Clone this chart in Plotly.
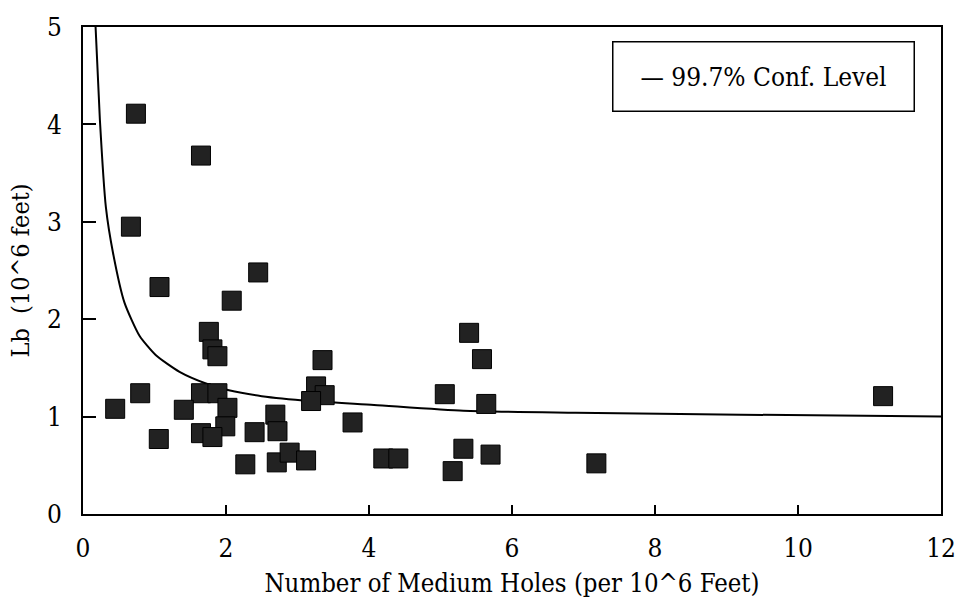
import plotly.graph_objects as go

# Observed data: medium-hole rate vs. Lb
holes_x = [0.74, 1.65, 0.67, 1.07, 2.45, 2.08, 1.76, 1.81, 1.88, 3.35,
           0.80, 1.65, 1.88, 3.26, 3.38, 3.19, 0.45, 1.41, 2.02, 2.69,
           3.77, 1.99, 1.65, 1.81, 2.40, 2.72, 1.06, 2.27, 2.71, 2.89,
           3.12, 4.20, 4.41, 5.40, 5.58, 5.06, 5.64, 5.32, 5.70, 5.17,
           7.18, 11.19]
lb_y = [4.11, 3.68, 2.95, 2.33, 2.48, 2.19, 1.87, 1.69, 1.62, 1.58,
        1.24, 1.24, 1.24, 1.31, 1.22, 1.16, 1.08, 1.07, 1.09, 1.02,
        0.94, 0.90, 0.83, 0.79, 0.84, 0.85, 0.77, 0.51, 0.53, 0.63,
        0.55, 0.57, 0.57, 1.86, 1.59, 1.23, 1.13, 0.67, 0.61, 0.44,
        0.52, 1.21]

# 99.7% confidence level curve
conf_x = [0.176, 0.236, 0.32, 0.42, 0.58, 0.79, 1.02, 1.35, 1.72, 2.04,
          2.5, 3.19, 4.07, 5.32, 6.89, 9.2, 12.0]
conf_y = [5.0, 4.05, 3.15, 2.68, 2.17, 1.83, 1.63, 1.46, 1.34, 1.27,
          1.21, 1.16, 1.12, 1.06, 1.04, 1.02, 1.00]

x_ticks = [0, 2, 4, 6, 8, 10, 12]
y_ticks = [0, 1, 2, 3, 4, 5]

FONT = "DejaVu Serif Condensed, DejaVu Serif"

fig = go.Figure()
fig.add_trace(go.Scatter(
    x=conf_x, y=conf_y, mode="lines",
    line=dict(color="black", width=2, shape="spline", smoothing=0.6),
    showlegend=False, hoverinfo="skip",
))
fig.add_trace(go.Scatter(
    x=holes_x, y=lb_y, mode="markers",
    marker=dict(symbol="square", size=19, color="#222222",
                line=dict(color="black", width=1)),
    showlegend=False,
))

axis_common = dict(
    showgrid=False, zeroline=False, showline=True, mirror=True,
    linecolor="black", linewidth=1.8, ticks="inside", tickcolor="black",
    tickwidth=1.5, tickfont=dict(family=FONT, size=26, color="black"),
)

fig.update_xaxes(
    range=[0, 12], tickvals=x_ticks, ticklen=9, ticklabelstandoff=10,
    title=dict(text="Number of Medium Holes (per 10^6 Feet)",
               font=dict(family=FONT, size=25.5, color="black"), standoff=12),
    **axis_common,
)
fig.update_yaxes(
    range=[0, 5], tickvals=y_ticks, ticklen=13, ticklabelstandoff=14,
    title=dict(text="Lb  (10^6 feet)",
               font=dict(family=FONT, size=25, color="black"), standoff=10),
    **axis_common,
)

fig.add_annotation(
    xref="paper", yref="paper", x=0.793, y=0.899,
    xanchor="center", yanchor="middle",
    text="\u2014 99.7% Conf. Level", showarrow=False,
    font=dict(family=FONT, size=26, color="black"),
    bordercolor="black", borderwidth=1.5, borderpad=4,
    width=292, height=60, bgcolor="white",
)

fig.update_layout(
    width=968, height=606,
    margin=dict(l=83, r=20, t=21, b=92),
    paper_bgcolor="white", plot_bgcolor="white",
)

fig.write_html("out.html")
